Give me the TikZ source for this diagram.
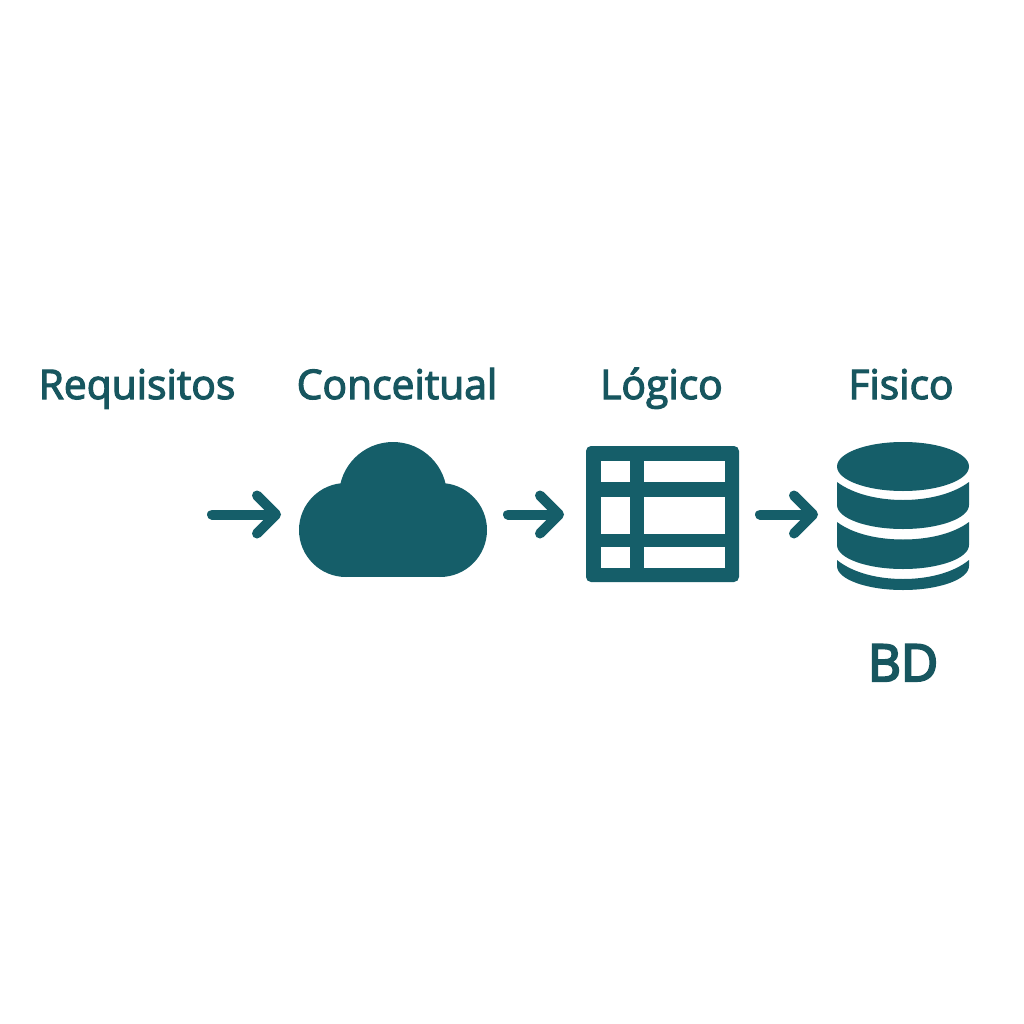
\documentclass[tikz,border=0pt]{standalone}
\usepackage{fontspec}
\setmainfont{Open Sans}
\usetikzlibrary{arrows.meta}
\definecolor{teal1}{HTML}{155E69}
\definecolor{ink}{HTML}{17565F}
\newcommand{\heavier}[2]{\special{pdf:code q 2 Tr #1 w 0.09 0.337 0.373 RG}#2\special{pdf:code Q}}
\tikzset{
 lab/.style={text=ink,font=\fontsize{40.8}{44}\selectfont,anchor=base,inner sep=0pt},
 bigl/.style={text=ink,font=\fontsize{51}{54}\selectfont,anchor=base,inner sep=0pt},
 icon/.style={inner sep=0pt,outer sep=0pt,minimum width=#1},
 conn/.style={draw=teal1,line width=10pt,line cap=round,-{Straight Barb[round,length=19pt,width=38pt]}},
 ic/.style={fill=teal1},
 hole/.style={fill=white}
}
\begin{document}
\begin{tikzpicture}[x=1pt,y=-1pt]
\useasboundingbox (0,0) rectangle (1024,1024);
\fill[white] (0,0) rectangle (1024,1024);
% labels
\node[lab] (req) at (137,399) {\heavier{1.2}{Requisitos}};
\node[lab] (con) at (397,399) {\heavier{1.2}{Conceitual}};
\node[lab] (log) at (661.5,399) {\heavier{1.2}{Lógico}};
\node[lab] (fis) at (901,399) {\heavier{1.2}{Fisico}};
\node[bigl] (bd) at (903,681) {\heavier{2.2}{BD}};
% cloud
\fill[ic] (393,496) circle[radius=54];
\fill[ic] (346,530) circle[radius=47];
\fill[ic] (440,530) circle[radius=47];
\fill[ic] (346,500) rectangle (440,577);
\node[icon=188pt,minimum height=135pt] (cloud) at (393,509.5) {};
% table
\node[icon=153pt,minimum height=136pt,fill=teal1,rounded corners=5pt] (tab) at (662.5,514) {};
\foreach \ya/\yb in {461/482,497/534,547/568}{
 \fill[hole] (601,\ya) rectangle (630,\yb);
 \fill[hole] (644,\ya) rectangle (725,\yb);
}
% database
\fill[ic] (903,466.5) ellipse[x radius=66,y radius=24.5];
\fill[ic] (837,482) .. controls (853,494) and (878,500) .. (903,500) .. controls (928,500) and (953,494) .. (969,482) -- (969,505) arc[start angle=0,end angle=180,x radius=66,y radius=24] -- cycle;
\fill[ic] (837,522) .. controls (853,534) and (878,539.5) .. (903,539.5) .. controls (928,539.5) and (953,534) .. (969,522) -- (969,545) arc[start angle=0,end angle=180,x radius=66,y radius=24] -- cycle;
\fill[ic] (837,560) .. controls (853,573) and (878,579) .. (903,579) .. controls (928,579) and (953,573) .. (969,560) -- (969,566) arc[start angle=0,end angle=180,x radius=66,y radius=24] -- cycle;
\node[icon=132pt,minimum height=148pt] (db) at (903,516) {};
% connectors
\coordinate (start) at (212,514.5);
\draw[conn,shorten >=18pt] (start) -- (cloud.west |- start);
\draw[conn,shorten <=21pt,shorten >=22pt] (cloud.east |- start) -- (tab.west |- start);
\draw[conn,shorten <=21pt,shorten >=19pt] (tab.east |- start) -- (db.west |- start);
\end{tikzpicture}
\end{document}
